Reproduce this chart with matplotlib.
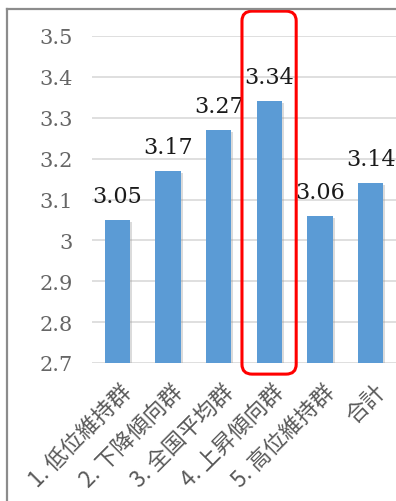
import matplotlib
matplotlib.use('Agg')
import matplotlib.pyplot as plt
import matplotlib.patheffects as pe
from matplotlib.patches import FancyBboxPatch
from matplotlib.lines import Line2D
import matplotlib.transforms as mtransforms

# Data
categories = ['1. 低位維持群', '2. 下降傾向群', '3. 全国平均群',
              '4. 上昇傾向群', '5. 高位維持群', '合計']
values = [3.05, 3.17, 3.27, 3.34, 3.06, 3.14]
yticks = [2.7, 2.8, 2.9, 3.0, 3.1, 3.2, 3.3, 3.4, 3.5]
ytick_labels = ['2.7', '2.8', '2.9', '3', '3.1', '3.2', '3.3', '3.4', '3.5']
highlight = 3

W, H = 396, 502
fig = plt.figure(figsize=(W / 100, H / 100), dpi=100)
fig.patch.set_facecolor('white')

# outer chart frame (only top and left edges visible)
fig.add_artist(Line2D([7 / W, 7 / W], [0, 1 - 10 / H], color='#8c8c8c', lw=1.6))
fig.add_artist(Line2D([7 / W, 1], [1 - 10 / H, 1 - 10 / H], color='#8c8c8c', lw=1.6))

ax = fig.add_axes([92 / W, (H - 364) / H, (W - 92) / W, 327 / H])
x = list(range(len(values)))
ax.bar(x, [v - 2.7 for v in values], bottom=2.7, width=0.5, color='#5B9BD5',
       zorder=3,
       path_effects=[pe.SimplePatchShadow(offset=(1.5, -1.5), shadow_rgbFace='#999999', alpha=0.35),
                     pe.Normal()])
ax.set_xlim(-0.5, len(values) - 0.5)
ax.set_ylim(2.7, 3.5)

ax.set_yticks(yticks)
ax.set_yticklabels(ytick_labels, fontfamily='DejaVu Serif', fontsize=15, color='#666666')
ax.yaxis.grid(True, color='#d9d9d9', lw=1.2, zorder=0)
ax.tick_params(axis='y', length=0, pad=14)
ax.tick_params(axis='x', length=0, pad=12)
ax.set_xticks(x)
ax.set_xticklabels(categories, rotation=45, ha='right', va='top', rotation_mode='anchor',
                   fontfamily=['Noto Sans CJK JP', 'DejaVu Sans'], fontsize=16, color='#595959')
shift = mtransforms.ScaledTranslation(3 / 100, 0, fig.dpi_scale_trans)
for lab in ax.get_xticklabels():
    lab.set_transform(lab.get_transform() + shift)
for s in ax.spines.values():
    s.set_visible(False)

for xi, v in zip(x, values):
    ax.annotate(f'{v:.2f}', xy=(xi, v), xytext=(0, 13), textcoords='offset points',
                ha='center', va='baseline', fontfamily='DejaVu Serif', fontsize=16,
                color='#1a1a1a', zorder=5)

# red highlight box
trans = mtransforms.blended_transform_factory(ax.transData, ax.transAxes)
box = FancyBboxPatch((highlight - 0.54, -0.034), 1.07, 1.11,
                     boxstyle='round,pad=0,rounding_size=0.2', transform=trans,
                     fill=False, ec='#ff0000', lw=2.2, clip_on=False, zorder=6,
                     mutation_aspect=0.15)
ax.add_patch(box)

fig.savefig('out.png', dpi=100)
